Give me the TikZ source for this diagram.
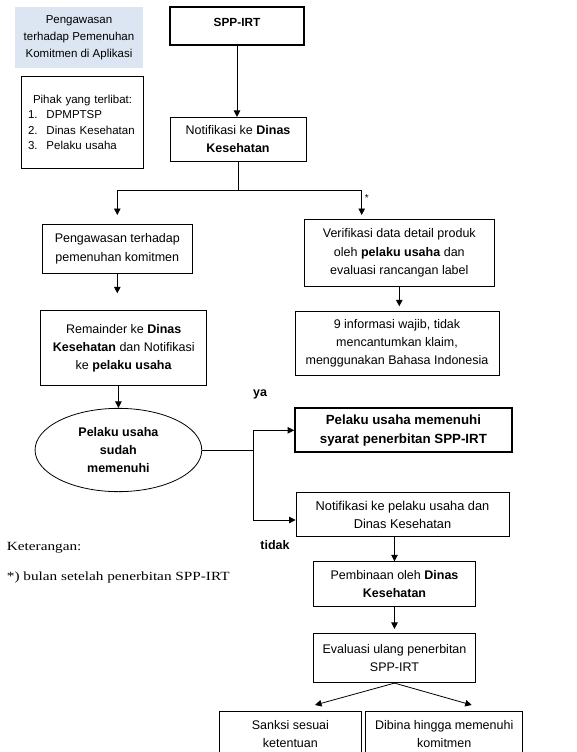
\documentclass[tikz,border=0pt]{standalone}
\usepackage{fontspec}
\setmainfont{Liberation Sans}
\newfontfamily\ketfont[FakeStretch=1.22]{Liberation Serif}
\usetikzlibrary{arrows.meta,shapes.geometric}
\definecolor{lightbluebox}{RGB}{220,230,242}
\begin{document}
\begin{tikzpicture}[x=1pt,y=-1pt,
  box/.style={draw, line width=0.8pt, align=center, inner sep=0pt, font=\fontsize{12.5}{18.4}\selectfont},
  thickbox/.style={box, line width=1.8pt},
  arr/.style={line width=0.8pt, -{Triangle[length=6.5pt,width=6.5pt]}},
  conn/.style={line width=0.8pt},
  lbl/.style={font=\fontsize{12.5}{15}\selectfont\bfseries, inner sep=0pt},
  ket/.style={anchor=west, inner sep=0pt, font=\ketfont\fontsize{12.5}{15}\selectfont},
]
\clip (0,0) rectangle (576,752);

% left info boxes
\node[fill=lightbluebox, minimum width=128pt, minimum height=60.4pt, align=center, inner sep=0pt,
      font=\fontsize{11.5}{17.2}\selectfont] (head) at (79,37.5)
      {Pengawasan\\terhadap Pemenuhan\\Komitmen di Aplikasi};
\node[draw, line width=0.8pt, minimum width=121.6pt, minimum height=92.3pt, inner sep=0pt,
      align=left, text width=109pt, font=\fontsize{11.5}{15.4}\selectfont] (pihak) at (82.5,122.2)
      {\hspace*{5pt}Pihak yang terlibat:\\\makebox[18.5pt][l]{1.}DPMPTSP\\\makebox[18.5pt][l]{2.}Dinas Kesehatan\\\makebox[18.5pt][l]{3.}Pelaku usaha};

% main flow
\node[thickbox, font=\fontsize{11.8}{18.4}\selectfont\bfseries, minimum width=134pt, minimum height=37.7pt, text depth=7pt] (spp) at (237,26.15) {SPP-IRT};
\node[box, minimum width=136pt, minimum height=43.7pt] (n1) at (238,139.2) {Notifikasi ke \textbf{Dinas}\\\textbf{Kesehatan}};
\node[box, minimum width=150.6pt, minimum height=49pt] (pw) at (117.3,248.8) {Pengawasan terhadap\\pemenuhan komitmen};
\node[box, minimum width=190pt, minimum height=67.4pt] (ver) at (399.3,253) {Verifikasi data detail produk\\oleh \textbf{pelaku usaha} dan\\evaluasi rancangan label};
\node[box, minimum width=166pt, minimum height=75pt] (rem) at (123.7,348.2) {Remainder ke \textbf{Dinas}\\\textbf{Kesehatan} dan Notifikasi\\ke \textbf{pelaku usaha}};
\node[box, minimum width=204pt, minimum height=64.7pt] (info) at (397,343.35) {9 informasi wajib, tidak\\mencantumkan klaim,\\menggunakan Bahasa Indonesia};
\node[box, ellipse, font=\fontsize{12.5}{18.4}\selectfont\bfseries, minimum width=166.7pt, minimum height=83.3pt] (el) at (118.4,450) {Pelaku usaha\\sudah\\memenuhi};
\node[thickbox, font=\fontsize{13.3}{18.6}\selectfont\bfseries, minimum width=216.7pt, minimum height=44pt] (ya) at (403.4,430.3) {Pelaku usaha memenuhi\\syarat penerbitan SPP-IRT};
\node[box, font=\fontsize{12.8}{18.4}\selectfont, minimum width=213pt, minimum height=44pt] (n2) at (402.5,514.7) {Notifikasi ke pelaku usaha dan\\Dinas Kesehatan};
\node[box, minimum width=162.4pt, minimum height=44.3pt] (pb) at (394.5,583.85) {Pembinaan oleh \textbf{Dinas}\\\textbf{Kesehatan}};
\node[box, minimum width=162.4pt, minimum height=49.4pt] (ev) at (394.5,658) {Evaluasi ulang penerbitan\\SPP-IRT};
\node[box, minimum width=142.7pt, minimum height=46pt] (sk) at (290.4,734) {Sanksi sesuai\\ketentuan};
\node[box, minimum width=157pt, minimum height=46pt] (db) at (444.2,734) {Dibina hingga memenuhi\\komitmen};

% labels
\node[lbl] (yalbl) at (260,394) {ya};
\node[lbl] (tidaklbl) at (275,545) {tidak};
\node[inner sep=0pt, font=\fontsize{10}{12}\selectfont] (ast) at (366.7,198) {*};
\node[ket] (ket1) at (6.7,548) {Keterangan:};
\node[ket] (ket2) at (6.7,577) {*) bulan setelah penerbitan SPP-IRT};

% connectors
\coordinate (j) at (238,190.7);
\coordinate (tl) at (117.3,215);
\coordinate (tr) at (361.7,215);
\coordinate (t2) at (117.3,293.3);
\coordinate (d) at (253.3,450);
\coordinate (dn) at (253.3,520);
\coordinate (sl) at (315,705);
\coordinate (sr) at (471.7,705);

\draw[arr] (spp.south) -- (spp.south |- n1.north);
\draw[conn] (n1.south) -- (j);
\draw[arr] (j) -| (tl);
\draw[arr] (j) -| (tr);
\draw[arr] (pw.south) -- (t2);
\draw[arr, shorten >=4.3pt] (ver.south) -- (ver.south |- info.north);
\draw[arr] (rem.south -| el.north) -- (el.north);
\draw[conn] (el.east) -- (d);
\draw[arr] (d) |- (ya.west);
\draw[arr] (d) |- (n2.west |- dn);
\draw[arr] (pb.north |- n2.south) -- (pb.north);
\draw[arr, shorten >=4pt] (pb.south) -- (ev.north);
\draw[arr] (ev.south) -- (sl);
\draw[arr] (ev.south) -- (sr);
\end{tikzpicture}
\end{document}
